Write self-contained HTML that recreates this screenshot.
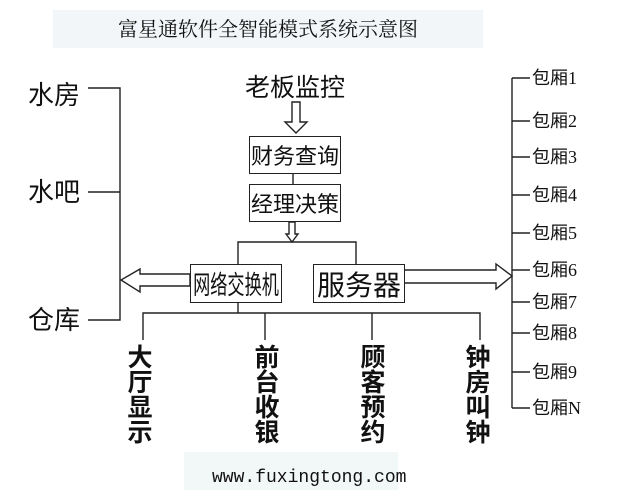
<!DOCTYPE html>
<html><head><meta charset="utf-8"><style>
body{margin:0;width:631px;height:503px;background:#fff;position:relative;overflow:hidden;font-family:"Liberation Sans","Noto Sans CJK SC",sans-serif;color:#111}
.t{position:absolute;white-space:nowrap;line-height:1}
.box{position:absolute;border:1.5px solid #222;box-sizing:border-box;display:flex;align-items:center;justify-content:center;font-size:22px;background:#fff;white-space:nowrap;overflow:hidden}
.v{position:absolute;font-size:25px;line-height:25px;width:30px;text-align:center;font-weight:bold}
.r{position:absolute;font-size:18px;line-height:18px;white-space:nowrap;font-family:"Liberation Serif","Noto Sans CJK SC",serif}
</style></head><body>
<div style="position:absolute;left:53px;top:10px;width:430px;height:38px;background:#f2f6f8"></div>
<div class="t" style="left:53px;width:430px;top:18px;text-align:center;font-size:20px;font-family:'Noto Serif CJK SC',serif">富星通软件全智能模式系统示意图</div>
<div style="position:absolute;left:184px;top:452px;width:214px;height:38px;background:#f2f7f8"></div>
<div class="t" style="left:212px;top:469px;font-size:18px;font-family:'Liberation Mono',monospace">www.fuxingtong.com</div>
<svg width="631" height="503" style="position:absolute;left:0;top:0" fill="none" stroke="#222" stroke-width="1.4">
<path d="M88 88H120V320H88M88 192H120"/>
<path d="M190 274H140V269L121 280L140 292V286H190Z" fill="#fff"/>
<path d="M404 270H496V264L512 276L496 289V283H404Z" fill="#fff"/>
<path d="M512 78V408M512 78H530M512 121H530M512 157H530M512 195H530M512 233H530M512 270H530M512 302H530M512 333H530M512 372H530M512 408H530"/>
<path d="M292 102V122H285L296 133L307 122H300V102Z" fill="#fff"/>
<path d="M293 173V184"/>
<path d="M289 222V234H286L292 242L298 234H295V222Z" fill="#fff"/>
<path d="M238 264V242H356V264"/>
<path d="M238 302V313M143 340V313H480V340M265 313V340M372 313V340"/>
</svg>
<div class="t" style="left:28px;top:82px;font-size:26px">水房</div>
<div class="t" style="left:28px;top:179px;font-size:26px">水吧</div>
<div class="t" style="left:28px;top:307px;font-size:26px">仓库</div>
<div class="t" style="left:245px;top:76px;font-size:25px">老板监控</div>
<div class="box" style="left:249px;top:136px;width:92px;height:38px">财务查询</div>
<div class="box" style="left:249px;top:184px;width:92px;height:38px">经理决策</div>
<div class="box" style="left:190px;top:264px;width:92px;height:39px"><span style="display:inline-block;font-size:26px;transform:scaleX(0.66)">网络交换机</span></div>
<div class="box" style="left:313px;top:264px;width:92px;height:39px;font-size:28px">服务器</div>
<div class="r" style="left:532px;top:69px">包厢1</div>
<div class="r" style="left:532px;top:112px">包厢2</div>
<div class="r" style="left:532px;top:148px">包厢3</div>
<div class="r" style="left:532px;top:186px">包厢4</div>
<div class="r" style="left:532px;top:224px">包厢5</div>
<div class="r" style="left:532px;top:261px">包厢6</div>
<div class="r" style="left:532px;top:293px">包厢7</div>
<div class="r" style="left:532px;top:324px">包厢8</div>
<div class="r" style="left:532px;top:363px">包厢9</div>
<div class="r" style="left:532px;top:399px">包厢N</div>
<div class="v" style="left:125px;top:346px">大<br>厅<br>显<br>示</div>
<div class="v" style="left:252px;top:346px">前<br>台<br>收<br>银</div>
<div class="v" style="left:358px;top:346px">顾<br>客<br>预<br>约</div>
<div class="v" style="left:463px;top:346px">钟<br>房<br>叫<br>钟</div>
</body></html>
